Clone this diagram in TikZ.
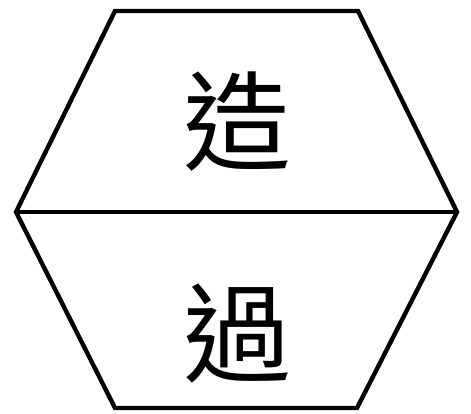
\documentclass[tikz,border=0pt]{standalone}
\usepackage{fontspec}
\newfontfamily\cjk{Noto Sans CJK TC}
\usetikzlibrary{positioning}

\begin{document}
\begin{tikzpicture}[
        x=1pt, y=1pt,
        edge/.style={line width=4.4pt, line join=miter},
        glyph/.style={font=\cjk\fontsize{108}{108}\selectfont, inner sep=0pt}
    ]
        \useasboundingbox (0,0) rectangle (471,414);

        \coordinate (tl) at (115,403);
        \coordinate (tr) at (358,403);
        \coordinate (r) at (457,202);
        \coordinate (br) at (357,6);
        \coordinate (bl) at (115,6);
        \coordinate (l) at (16,202);

        \draw[edge] (tl) -- (tr) -- (r) -- (br) -- (bl) -- (l) -- cycle;
        \draw[edge] (l) -- (r);

        \node[glyph] (zao) at (237,292) {造};
        \node[glyph] (guo) at (237,80) {過};
    \end{tikzpicture}
\end{document}
